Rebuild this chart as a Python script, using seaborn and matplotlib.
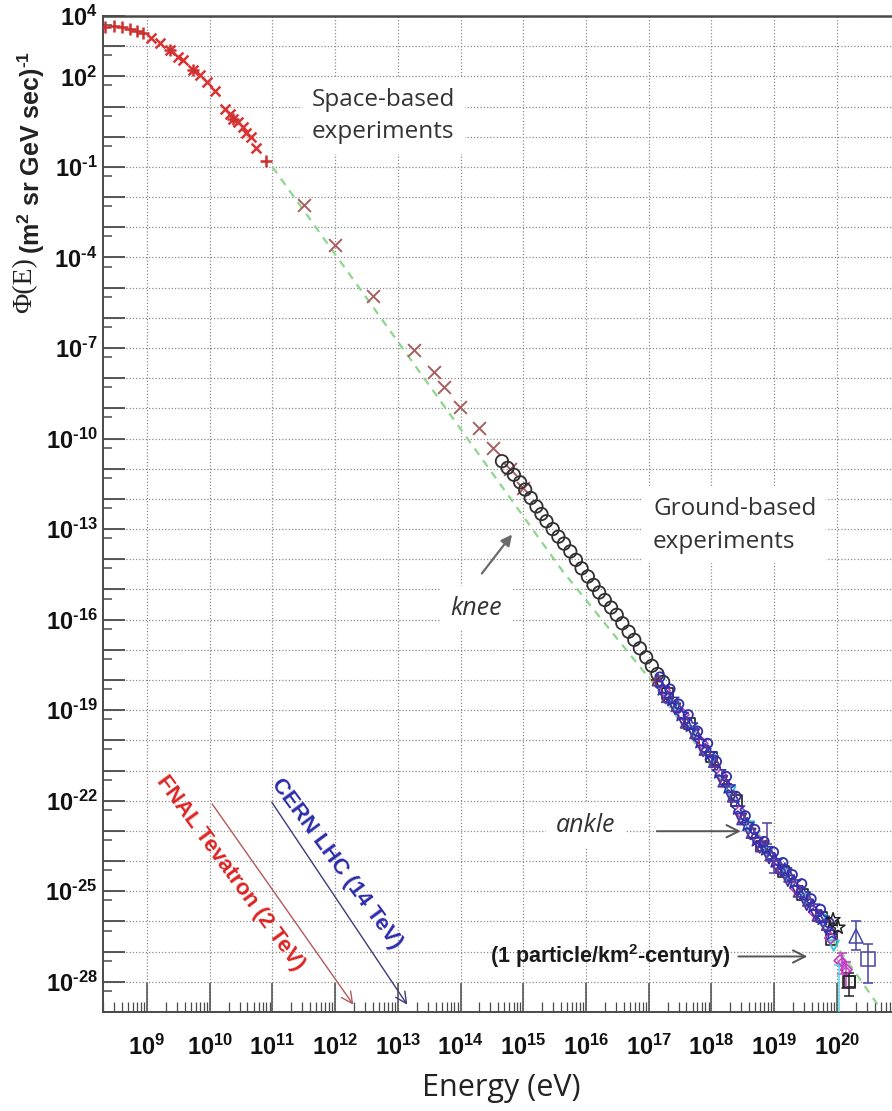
import numpy as np
import matplotlib
matplotlib.use("Agg")
import matplotlib.pyplot as plt
import seaborn as sns
from matplotlib.ticker import FixedLocator, FuncFormatter, LogLocator, NullFormatter

# ---------------------------------------------------------------------------
# Cosmic-ray flux data (log10 of energy in eV, log10 of flux)
# ---------------------------------------------------------------------------
# space-based direct measurements
direct_plus_logE = [8.33, 8.47, 8.60, 8.73, 8.84, 8.93, 9.37, 9.74, 10.37, 10.90]
direct_plus_logF = [3.62, 3.67, 3.62, 3.56, 3.51, 3.44, 2.87, 2.20, 0.59, -0.80]
direct_cross_logE = [9.07, 9.21, 9.37, 9.50, 9.58, 9.74, 9.84, 9.95, 10.08, 10.24,
                     10.32, 10.37, 10.45, 10.53, 10.58, 10.66, 10.74]
direct_cross_logF = [3.26, 3.09, 2.87, 2.64, 2.53, 2.20, 2.03, 1.81, 1.53, 0.92,
                     0.76, 0.59, 0.48, 0.31, 0.14, -0.02, -0.36]
sparse_logE = [11.50, 12.00, 12.60, 13.25, 13.57, 13.73, 13.99, 14.29, 14.51, 14.79, 15.00]
sparse_logF = [-2.26, -3.60, -5.29, -7.08, -7.81, -8.28, -8.94, -9.64, -10.30, -11.02, -11.65]

# air-shower measurements around the knee
knee_logE = [14.66, 14.75, 14.85, 14.95, 15.03, 15.12, 15.21, 15.29, 15.37, 15.47,
             15.56, 15.65, 15.75, 15.84, 15.93, 16.03, 16.12, 16.21, 16.30, 16.40,
             16.49, 16.58, 16.68, 16.77, 16.86, 16.96, 17.05, 17.14, 17.23]
knee_logF = [-10.75, -10.97, -11.20, -11.45, -11.69, -11.97, -12.25, -12.50, -12.74, -13.00,
             -13.25, -13.48, -13.74, -14.02, -14.30, -14.57, -14.85, -15.10, -15.35, -15.60,
             -15.84, -16.12, -16.40, -16.67, -16.95, -17.25, -17.53, -17.80, -18.06]

# ultra-high-energy experiments
uhe_a_logE = [17.15, 17.30, 17.45, 17.60, 17.75, 17.90, 18.05, 18.20, 18.35, 18.50,
              18.65, 18.80, 18.95, 19.10, 19.25, 19.40, 19.55, 19.70, 19.85]
uhe_a_logF = [-18.00, -18.55, -18.85, -19.40, -19.75, -20.30, -20.70, -21.35, -21.85, -22.60,
              -23.05, -23.50, -23.80, -24.20, -24.50, -25.00, -25.30, -25.80, -26.10]
uhe_b_logE = [17.22, 17.37, 17.52, 17.67, 17.82, 17.97, 18.12, 18.27, 18.42, 18.57,
              18.72, 18.87, 19.02, 19.17, 19.32, 19.47, 19.62, 19.77, 19.92]
uhe_b_logF = [-18.30, -18.65, -19.15, -19.50, -20.05, -20.45, -21.05, -21.55, -22.25, -22.80,
              -23.30, -23.60, -24.00, -24.30, -24.70, -25.10, -25.50, -25.90, -26.40]
uhe_c_logE = [17.25, 17.55, 17.85, 18.15, 18.45, 18.75, 19.05, 19.35, 19.65, 19.90, 20.05, 20.15]
uhe_c_logF = [-18.35, -19.15, -20.10, -21.15, -22.35, -23.35, -24.15, -24.90, -25.70, -26.55, -27.30, -27.60]
uhe_d_logE = [17.40, 17.70, 18.00, 18.30, 18.60, 18.90, 19.20, 19.50, 19.75, 19.95]
uhe_d_logF = [-18.85, -19.70, -20.65, -21.70, -22.85, -23.70, -24.45, -25.25, -25.95, -26.80]
uhe_e_logE = [17.30, 17.65, 18.00, 18.40, 18.80, 19.15, 19.45, 19.75, 19.92, 20.20]
uhe_e_logF = [-18.45, -19.45, -20.55, -22.00, -23.50, -24.35, -25.10, -25.85, -26.60, -28.00]
uhe_f_logE = [17.12, 17.35, 17.58, 17.80, 18.05, 18.25]
uhe_f_logF = [-18.00, -18.70, -19.30, -19.95, -20.80, -21.45]
uhe_g_logE = [17.18, 17.34, 17.48, 17.63, 17.78, 17.94, 18.08, 18.24, 18.39, 18.54,
              18.69, 18.84, 18.99, 19.14, 19.29, 19.44, 19.59, 19.74, 19.88]
uhe_g_logF = [-17.90, -18.30, -18.80, -19.15, -19.70, -20.10, -20.70, -21.20, -21.85, -22.50,
              -22.95, -23.35, -23.70, -24.05, -24.45, -24.75, -25.25, -25.60, -26.05]
uhe_h_logE = [17.27, 17.42, 17.57, 17.72, 17.87, 18.02, 18.17, 18.32, 18.47, 18.62,
              18.77, 18.92, 19.07, 19.22, 19.37, 19.52, 19.67, 19.82]
uhe_h_logF = [-18.60, -18.95, -19.45, -19.80, -20.35, -20.70, -21.35, -21.90, -22.60, -23.10,
              -23.55, -23.90, -24.30, -24.65, -25.00, -25.45, -25.80, -26.20]
uhe_star_logE = [19.94, 20.02]
uhe_star_logF = [-25.95, -26.20]

# points drawn with vertical error bars: (logE, logF, low, high)
err_purple_logE = [18.89, 19.00]
err_purple_logF = [-23.15, -24.20]
err_purple_lo = [-23.45, -24.40]
err_purple_hi = [-22.75, -24.00]
err_blue_logE = [20.31, 20.50]
err_blue_logF = [-26.48, -27.25]
err_blue_lo = [-26.93, -28.03]
err_blue_hi = [-25.97, -26.76]
err_black_logE = [20.20]
err_black_logF = [-28.00]
err_black_lo = [-28.46]
err_black_hi = [-27.70]
err_magenta_logE = [20.08, 20.14]
err_magenta_logF = [-27.35, -27.65]
err_magenta_lo = [-27.75, -28.20]
err_magenta_hi = [-27.05, -27.35]
err_cyan_logE = [20.04]
err_cyan_logF = [-27.60]
err_cyan_lo = [-29.30]
err_cyan_hi = [-27.45]

# power-law guide
guide_logE = [11.00, 15.63, 17.07, 20.70]
guide_logF = [-1.00, -14.40, -18.10, -28.90]

x_tick_exponents = list(range(9, 21))
y_label_exponents = [4, 2, -1, -4, -7, -10, -13, -16, -19, -22, -25, -28]

HYPHEN = "\u2010"


def pow10(values):
    return np.power(10.0, np.asarray(values, dtype=float))


def power_label(k):
    sign = HYPHEN if k < 0 else ""
    return "$10^{" + sign + str(abs(k)) + "}$"


# ---------------------------------------------------------------------------
sns.set_theme(style="white")
plt.rcParams.update({
    "font.family": ["Liberation Sans", "DejaVu Sans"],
    "mathtext.fontset": "custom",
    "mathtext.rm": "Liberation Sans:bold",
    "mathtext.bf": "Liberation Sans:bold",
    "mathtext.it": "Liberation Sans:bold:italic",
    "mathtext.sf": "Liberation Sans:bold",
})

W, H = 892, 1111
fig = plt.figure(figsize=(W / 100, H / 100), dpi=100)
fig.patch.set_facecolor("white")
ax = fig.add_axes([103 / W, 1 - 1012 / H, 1 - 103 / W, (1012 - 16) / H])
ax.set_facecolor("white")
ax.set_xscale("log")
ax.set_yscale("log")
ax.set_xlim(10 ** 8.298, 10 ** 20.88)
ax.set_ylim(1e-29, 1e4)

# grid and ticks
ax.xaxis.set_major_locator(FixedLocator([10.0 ** k for k in x_tick_exponents]))
ax.xaxis.set_minor_locator(LogLocator(base=10, subs=np.arange(2, 10), numticks=60))
ax.xaxis.set_minor_formatter(NullFormatter())
ax.xaxis.set_major_formatter(FuncFormatter(lambda v, _: power_label(int(round(np.log10(v))))))

ax.yaxis.set_major_locator(FixedLocator([10.0 ** k for k in range(-29, 5)]))
ax.yaxis.set_minor_locator(FixedLocator([5 * 10.0 ** k for k in range(-29, 4)]))
ax.yaxis.set_minor_formatter(NullFormatter())


def ylab(v, _):
    k = int(round(np.log10(v)))
    return power_label(k) if k in y_label_exponents else ""


ax.yaxis.set_major_formatter(FuncFormatter(ylab))

ax.grid(True, which="major", color="#8c8c8c", linestyle=(0, (1, 1.6)), linewidth=0.9)
ax.set_axisbelow(True)

ax.tick_params(axis="x", which="major", direction="in", length=21, width=1.1,
               color="#4a4a4a", labelsize=17, pad=16, labelcolor="#111111",
               top=False, bottom=True)
ax.tick_params(axis="x", which="minor", direction="in", length=7.5, width=0.9,
               color="#4a4a4a", top=False, bottom=True)
ax.tick_params(axis="y", which="major", direction="in", length=16, width=1.3,
               color="#4a4a4a", labelsize=17, pad=4, labelcolor="#111111",
               right=False, left=True)
ax.tick_params(axis="y", which="minor", direction="in", length=6.5, width=1.1,
               color="#4a4a4a", right=False, left=True)

for side in ("left", "bottom", "top"):
    ax.spines[side].set_color("#4a4a4a")
    ax.spines[side].set_linewidth(1.4)
ax.spines["top"].set_linewidth(1.8)
ax.spines["right"].set_visible(False)

# ---------------------------------------------------------------------------
# data
sns.lineplot(x=pow10(guide_logE), y=pow10(guide_logF), color="#8fd58f",
             linestyle=(0, (3.5, 3)), linewidth=1.6, ax=ax, zorder=2, legend=False)


def draw_points(logE, logF, marker, size, color, lw, z=3):
    kw = dict(x=pow10(logE), y=pow10(logF), marker=marker, s=size,
              linewidth=lw, ax=ax, zorder=z, legend=False)
    if marker in ("x", "+"):
        sns.scatterplot(color=color, **kw)
    else:
        sns.scatterplot(facecolor="none", edgecolor=color, **kw)


draw_points(direct_cross_logE, direct_cross_logF, "x", 50, "#d83434", 1.8)
draw_points(direct_plus_logE, direct_plus_logF, "+", 65, "#cc3030", 1.8)
draw_points(sparse_logE, sparse_logF, "x", 85, "#a86060", 1.4)
draw_points(knee_logE, knee_logF, "o", 80, "#303030", 1.3)

draw_points(uhe_f_logE, uhe_f_logF, "+", 50, "#9a2020", 1.4, z=4)
draw_points(uhe_e_logE, uhe_e_logF, "s", 60, "#222222", 1.2, z=4)
draw_points(uhe_d_logE, uhe_d_logF, "v", 55, "#3cc4d6", 1.4, z=4)
draw_points(uhe_c_logE, uhe_c_logF, "D", 35, "#c23cc2", 1.2, z=4)
draw_points(uhe_h_logE, uhe_h_logF, "v", 60, "#4a2f96", 1.3, z=5)
draw_points(uhe_g_logE, uhe_g_logF, "o", 45, "#2e2ea8", 1.3, z=5)
draw_points(uhe_a_logE, uhe_a_logF, "^", 65, "#5a3c9c", 1.4, z=5)
draw_points(uhe_b_logE, uhe_b_logF, "*", 110, "#3030b0", 1.1, z=5)
draw_points(uhe_star_logE, uhe_star_logF, "*", 110, "#222222", 1.1, z=5)


def draw_errors(logE, logF, lo, hi, color, marker, ms):
    y = pow10(logF)
    yerr = [y - pow10(lo), pow10(hi) - y]
    ax.errorbar(pow10(logE), y, yerr=yerr, fmt=marker, ms=ms, mfc="none",
                mec=color, ecolor=color, elinewidth=1.1, capsize=3.5,
                capthick=1.1, mew=1.1, zorder=6)


draw_errors(err_purple_logE, err_purple_logF, err_purple_lo, err_purple_hi, "#5a3c9c", "none", 0)
draw_errors(err_magenta_logE, err_magenta_logF, err_magenta_lo, err_magenta_hi, "#c23cc2", "D", 4)
draw_errors(err_black_logE, err_black_logF, err_black_lo, err_black_hi, "#222222", "s", 8)
draw_errors(err_blue_logE[:1], err_blue_logF[:1], err_blue_lo[:1], err_blue_hi[:1], "#4545a5", "^", 10)
draw_errors(err_blue_logE[1:], err_blue_logF[1:], err_blue_lo[1:], err_blue_hi[1:], "#4545a5", "s", 10)
draw_errors(err_cyan_logE, err_cyan_logF, err_cyan_lo, err_cyan_hi, "#55d8e8", "none", 0)

# ---------------------------------------------------------------------------
# annotations
text_font = "Open Sans"
box = dict(facecolor="white", edgecolor="none", pad=7)


def at(le, lf):
    return (10.0 ** le, 10.0 ** lf)


ax.text(*at(11.63, 0.69), "Space-based\nexperiments", fontsize=17.5, family=text_font,
        color="#333333", ha="left", va="center", linespacing=1.45, bbox=box, zorder=7)
ax.text(*at(17.07, -12.88), "Ground-based\nexperiments", fontsize=17.5, family=text_font,
        color="#333333", ha="left", va="center", linespacing=1.45, bbox=box, zorder=7)
ax.text(*at(14.25, -15.63), "knee", fontsize=18, family=text_font, style="italic",
        color="#333333", ha="center", va="center", bbox=box, zorder=7)
ax.annotate("", xy=at(14.82, -13.18), xytext=at(14.34, -14.47),
            arrowprops=dict(arrowstyle="-|>", color="#6a6a6a", lw=1.6,
                            mutation_scale=16, shrinkA=0, shrinkB=0), zorder=7)
ax.text(*at(15.99, -22.81), "ankle", fontsize=18, family=text_font, style="italic",
        color="#333333", ha="center", va="center", bbox=box, zorder=7)
ax.annotate("", xy=at(18.47, -23.01), xytext=at(17.13, -23.01),
            arrowprops=dict(arrowstyle="->", color="#555555", lw=1.4,
                            mutation_scale=22, shrinkA=0, shrinkB=0), zorder=7)
ax.text(*at(16.38, -27.16), "(1 particle/km$^{2}$" + HYPHEN + "century)", fontsize=15.5,
        fontweight="bold", color="#1a1a1a", ha="center", va="center", zorder=7)
ax.annotate("", xy=at(19.53, -27.16), xytext=at(18.43, -27.16),
            arrowprops=dict(arrowstyle="->", color="#555555", lw=1.4,
                            mutation_scale=22, shrinkA=0, shrinkB=0), zorder=7)

# collider reach
ax.annotate("", xy=at(12.29, -28.76), xytext=at(10.04, -22.11),
            arrowprops=dict(arrowstyle="->", color="#b25a5a", lw=1.0,
                            mutation_scale=20, shrinkA=0, shrinkB=0), zorder=7)
ax.text(*at(10.32, -24.40), "FNAL Tevatron (2 TeV)", fontsize=16, fontweight="bold",
        color="#dd2424", rotation=-53.8, rotation_mode="anchor",
        ha="center", va="center", zorder=7)
ax.annotate("", xy=at(13.15, -28.76), xytext=at(10.99, -22.05),
            arrowprops=dict(arrowstyle="->", color="#3c3c7c", lw=1.0,
                            mutation_scale=20, shrinkA=0, shrinkB=0), zorder=7)
ax.text(*at(12.02, -24.07), "CERN LHC (14 TeV)", fontsize=16, fontweight="bold",
        color="#2c2cac", rotation=-53.6, rotation_mode="anchor",
        ha="center", va="center", zorder=7)

# axis titles
ax.set_xlabel("Energy (eV)", fontsize=22, family=text_font, color="#222222", va="center")
ax.xaxis.set_label_coords((501 - 103) / 789, -(1088 - 1012) / 996)

fig.text(25 / W, 1 - 313 / H, "\u03a6(E)", rotation=90, ha="center", va="bottom",
         fontsize=20, family=["Liberation Serif", "DejaVu Serif"], color="#222222")
fig.text(31 / W, 1 - 254 / H, "(m$^{2}$ sr GeV sec)$^{" + HYPHEN + "1}$", rotation=90,
         ha="center", va="bottom", fontsize=18, fontweight="bold", color="#222222")

fig.savefig("out.png", dpi=100, facecolor="white")
